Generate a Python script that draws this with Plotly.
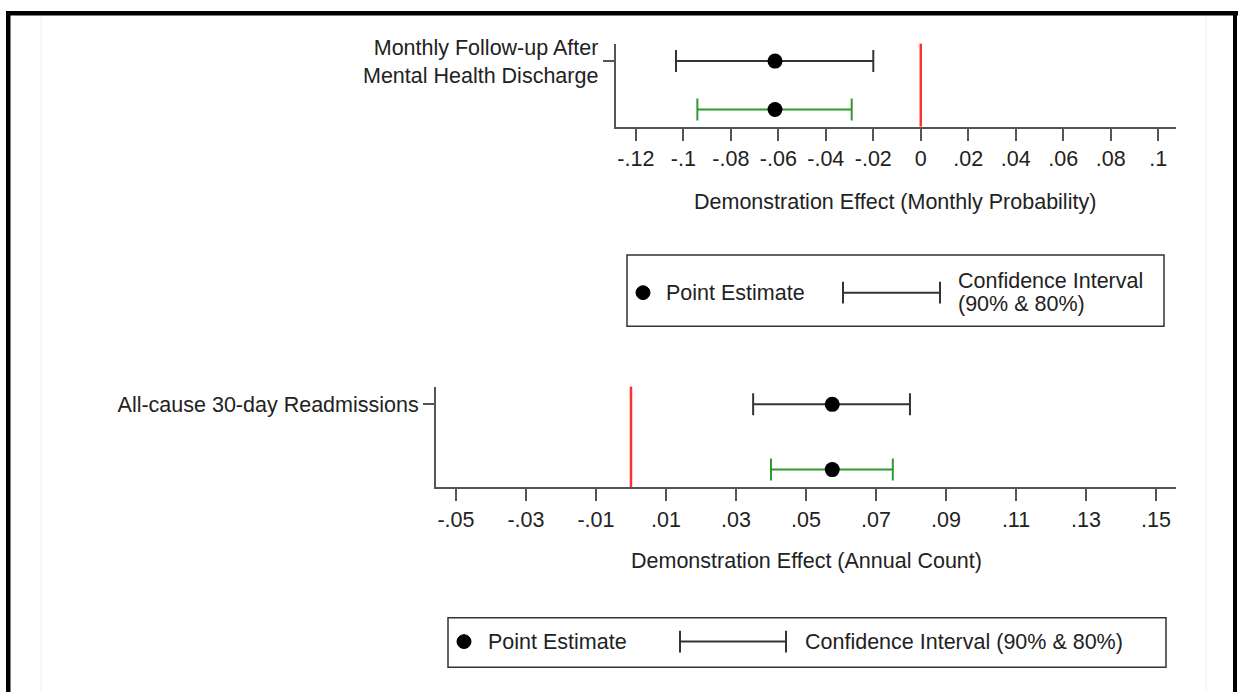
import plotly.graph_objects as go

W, H = 1238, 692

# ---------------- data ----------------
outcomes = ["Monthly Follow-up After<br>Mental Health Discharge",
            "All-cause 30-day Readmissions"]
axis_titles = ["Demonstration Effect (Monthly Probability)",
               "Demonstration Effect (Annual Count)"]
estimates = [-0.0614, 0.0575]
ci90_low = [-0.1031, 0.0349]
ci90_high = [-0.0200, 0.0797]
ci80_low = [-0.0941, 0.0400]
ci80_high = [-0.0291, 0.0748]

top_ticks = [-0.12, -0.10, -0.08, -0.06, -0.04, -0.02, 0.0, 0.02, 0.04, 0.06, 0.08, 0.10]
top_labels = ["-.12", "-.1", "-.08", "-.06", "-.04", "-.02", "0", ".02", ".04", ".06", ".08", ".1"]
bottom_ticks = [-0.05, -0.03, -0.01, 0.01, 0.03, 0.05, 0.07, 0.09, 0.11, 0.13, 0.15]
bottom_labels = ["-.05", "-.03", "-.01", ".01", ".03", ".05", ".07", ".09", ".11", ".13", ".15"]

legend_point = "Point Estimate"
legend_ci_lines = ["Confidence Interval", "(90% & 80%)"]
legend_ci_full = "Confidence Interval (90% & 80%)"

# ---------------- style ----------------
FONT = "Liberation Sans, Arial, sans-serif"
FS = 21.5
TXT = "#222222"
AX = "#555555"
CI90_COLOR = "#333333"
CI80_COLOR = "#2e9a2e"
REF_COLOR = "#ff3030"


def px(x):
    return x / W


def py(y):
    return 1 - y / H


fig = go.Figure()
shapes = []
annotations = []

row90, row80 = 2, 1
axes = [("x", "y"), ("x2", "y2")]

for i, (xa, ya) in enumerate(axes):
    est = estimates[i]
    fig.add_trace(go.Scatter(
        x=[est], y=[row90], xaxis=xa, yaxis=ya, mode="markers",
        marker=dict(color="black", size=15),
        error_x=dict(type="data", symmetric=False,
                     array=[ci90_high[i] - est], arrayminus=[est - ci90_low[i]],
                     color=CI90_COLOR, thickness=2, width=11),
        showlegend=False, hoverinfo="skip"))
    fig.add_trace(go.Scatter(
        x=[est], y=[row80], xaxis=xa, yaxis=ya, mode="markers",
        marker=dict(color="black", size=15),
        error_x=dict(type="data", symmetric=False,
                     array=[ci80_high[i] - est], arrayminus=[est - ci80_low[i]],
                     color=CI80_COLOR, thickness=2, width=11),
        showlegend=False, hoverinfo="skip"))
    # reference line at zero
    shapes.append(dict(type="line", xref=xa, yref=ya + " domain", x0=0, x1=0, y0=0, y1=1,
                       line=dict(color=REF_COLOR, width=2.5), layer="below"))

common_x = dict(showline=True, linecolor=AX, linewidth=2, ticks="outside", ticklen=12,
                tickwidth=2, tickcolor=AX, showgrid=False, zeroline=False,
                tickfont=dict(family=FONT, size=FS, color=TXT), fixedrange=True)
common_y = dict(showline=True, linecolor=AX, linewidth=2, ticks="outside", ticklen=11,
                tickwidth=2, tickcolor=AX, showgrid=False, zeroline=False,
                tickfont=dict(family=FONT, size=FS, color=TXT), fixedrange=True)

fig.update_layout(
    xaxis=dict(domain=[px(615.7), px(1176)], anchor="y", range=[-0.1285, 0.1075],
               tickvals=top_ticks, ticktext=top_labels, **common_x),
    yaxis=dict(domain=[py(120), py(36)], anchor="x", range=[0.647, 2.361],
               tickvals=[row90], ticktext=[outcomes[0]], **common_y),
    xaxis2=dict(domain=[px(436), px(1176)], anchor="y2", range=[-0.0557, 0.1557],
                tickvals=bottom_ticks, ticktext=bottom_labels, **common_x),
    yaxis2=dict(domain=[py(485), py(383)], anchor="x2", range=[0.727, 2.273],
                tickvals=[row90], ticktext=[outcomes[1]], **common_y),
)

# axis titles
annotations.append(dict(text=axis_titles[0], x=px(895.5), y=py(196), xref="paper", yref="paper",
                        xanchor="center", yanchor="middle", showarrow=False,
                        font=dict(family=FONT, size=FS, color=TXT)))
annotations.append(dict(text=axis_titles[1], x=px(806), y=py(559), xref="paper", yref="paper",
                        xanchor="center", yanchor="middle", showarrow=False,
                        font=dict(family=FONT, size=FS, color=TXT)))

# ---------- legend 1 ----------
shapes.append(dict(type="rect", xref="paper", yref="paper", x0=px(627), x1=px(1164),
                   y0=py(322), y1=py(250), line=dict(color="#333333", width=1.5),
                   layer="below"))
shapes.append(dict(type="circle", xref="paper", yref="paper", x0=px(636), x1=px(650),
                   y0=py(295), y1=py(281), fillcolor="black", line=dict(color="black", width=1)))
shapes.append(dict(type="line", xref="paper", yref="paper", x0=px(843), x1=px(940),
                   y0=py(288), y1=py(288), line=dict(color=CI90_COLOR, width=2)))
for xx in (843, 940):
    shapes.append(dict(type="line", xref="paper", yref="paper", x0=px(xx), x1=px(xx),
                       y0=py(299), y1=py(277), line=dict(color=CI90_COLOR, width=2)))
annotations.append(dict(text=legend_point, x=px(664), y=py(288), xref="paper", yref="paper",
                        xanchor="left", yanchor="middle", showarrow=False,
                        font=dict(family=FONT, size=FS, color=TXT)))
annotations.append(dict(text=legend_ci_lines[0], x=px(956), y=py(276), xref="paper", yref="paper",
                        xanchor="left", yanchor="middle", showarrow=False,
                        font=dict(family=FONT, size=FS, color=TXT)))
annotations.append(dict(text=legend_ci_lines[1], x=px(956), y=py(299), xref="paper", yref="paper",
                        xanchor="left", yanchor="middle", showarrow=False,
                        font=dict(family=FONT, size=FS, color=TXT)))

# ---------- legend 2 ----------
shapes.append(dict(type="rect", xref="paper", yref="paper", x0=px(448), x1=px(1166),
                   y0=py(667), y1=py(617), line=dict(color="#333333", width=1.5),
                   layer="below"))
shapes.append(dict(type="circle", xref="paper", yref="paper", x0=px(457), x1=px(471),
                   y0=py(648), y1=py(634), fillcolor="black", line=dict(color="black", width=1)))
shapes.append(dict(type="line", xref="paper", yref="paper", x0=px(680), x1=px(786),
                   y0=py(641), y1=py(641), line=dict(color=CI90_COLOR, width=2)))
for xx in (680, 786):
    shapes.append(dict(type="line", xref="paper", yref="paper", x0=px(xx), x1=px(xx),
                       y0=py(652), y1=py(630), line=dict(color=CI90_COLOR, width=2)))
annotations.append(dict(text=legend_point, x=px(486), y=py(641), xref="paper", yref="paper",
                        xanchor="left", yanchor="middle", showarrow=False,
                        font=dict(family=FONT, size=FS, color=TXT)))
annotations.append(dict(text=legend_ci_full, x=px(803), y=py(641), xref="paper", yref="paper",
                        xanchor="left", yanchor="middle", showarrow=False,
                        font=dict(family=FONT, size=FS, color=TXT)))

# ---------- faint panel edges ----------
for xx in (41, 1206):
    shapes.append(dict(type="line", xref="paper", yref="paper", x0=px(xx), x1=px(xx),
                       y0=py(8), y1=py(692), line=dict(color="#f1f1f1", width=1), layer="below"))

# ---------- outer black frame ----------
shapes.append(dict(type="rect", xref="paper", yref="paper", x0=px(6), x1=px(10.5),
                   y0=0, y1=py(3), fillcolor="black", line=dict(width=0)))
shapes.append(dict(type="rect", xref="paper", yref="paper", x0=px(6), x1=1,
                   y0=py(7.5), y1=py(3), fillcolor="black", line=dict(width=0)))
shapes.append(dict(type="rect", xref="paper", yref="paper", x0=px(1233), x1=px(1237),
                   y0=0, y1=py(3), fillcolor="black", line=dict(width=0)))

fig.update_layout(
    width=W, height=H, margin=dict(l=0, r=0, t=0, b=0),
    paper_bgcolor="white", plot_bgcolor="white",
    showlegend=False, shapes=shapes, annotations=annotations,
    font=dict(family=FONT, size=FS, color=TXT),
)

post = (
    "document.documentElement.style.margin='0';"
    "document.documentElement.style.padding='0';"
    "document.documentElement.style.overflow='hidden';"
    "document.body.style.margin='0';"
    "document.body.style.padding='0';"
    "document.body.style.overflow='hidden';"
    "var gd=document.getElementById('{plot_id}');"
    "gd.style.position='fixed';gd.style.left='0px';gd.style.top='0px';"
)

fig.write_html("out.html", config={"displayModeBar": False}, post_script=post)
